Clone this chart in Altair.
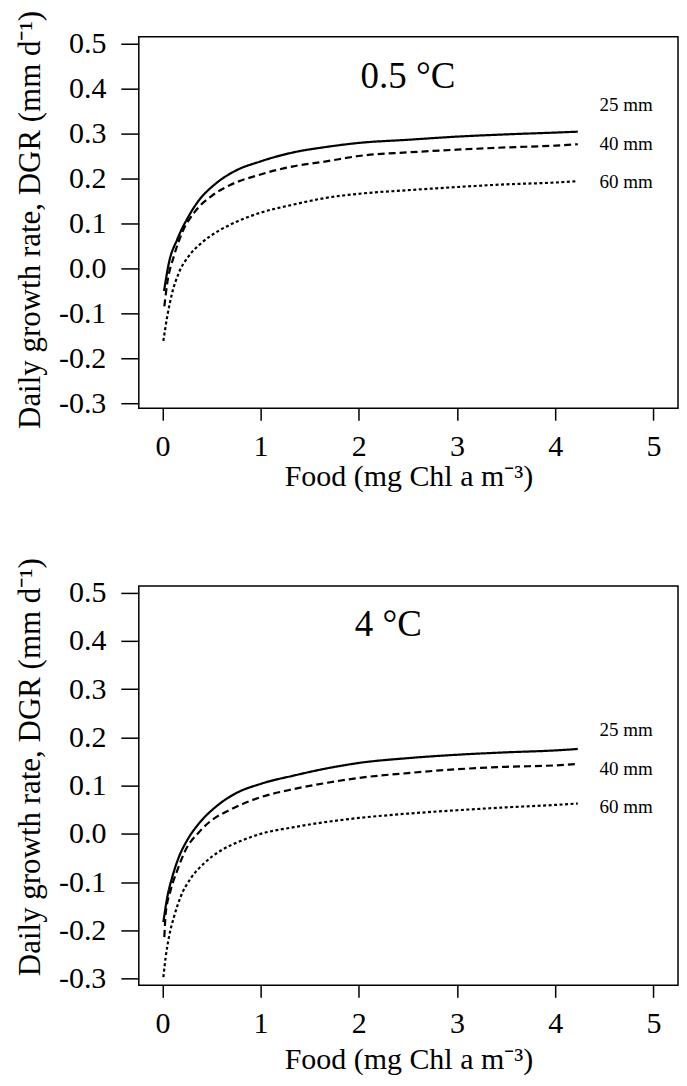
import altair as alt
import pandas as pd

# ---------------- data ----------------
sizes = ["25 mm", "40 mm", "60 mm"]

# Panel 1: 0.5 °C
t05_25_food = [0.017, 0.067, 0.15, 0.267, 0.367, 0.534, 0.734, 1.0, 1.334, 1.667, 2.0, 2.5, 3.0, 3.5, 4.0, 4.23]
t05_25_dgr = [-0.050, 0.013, 0.064, 0.116, 0.150, 0.187, 0.216, 0.238, 0.258, 0.270, 0.279, 0.286, 0.293, 0.298, 0.302, 0.304]
t05_40_food = [0.02, 0.05, 0.117, 0.2, 0.334, 0.5, 0.667, 1.0, 1.334, 1.667, 2.0, 2.5, 3.0, 3.5, 4.0, 4.23]
t05_40_dgr = [-0.084, -0.032, 0.027, 0.079, 0.127, 0.161, 0.183, 0.209, 0.227, 0.238, 0.250, 0.258, 0.264, 0.269, 0.273, 0.276]
t05_60_food = [0.01, 0.05, 0.1, 0.167, 0.267, 0.4, 0.567, 0.767, 1.0, 1.334, 1.667, 2.0, 2.5, 3.0, 3.5, 4.0, 4.23]
t05_60_dgr = [-0.161, -0.106, -0.054, -0.010, 0.027, 0.057, 0.083, 0.105, 0.124, 0.142, 0.157, 0.166, 0.174, 0.181, 0.187, 0.191, 0.194]

# Panel 2: 4 °C
t4_25_food = [0.01, 0.05, 0.10, 0.168, 0.25, 0.37, 0.537, 0.738, 1.006, 1.34, 1.68, 2.0, 2.5, 3.0, 3.5, 4.0, 4.23]
t4_25_dgr = [-0.183, -0.131, -0.090, -0.048, -0.014, 0.021, 0.055, 0.083, 0.104, 0.121, 0.136, 0.147, 0.157, 0.164, 0.169, 0.173, 0.176]
t4_40_food = [0.02, 0.034, 0.084, 0.151, 0.235, 0.37, 0.50, 0.67, 1.0, 1.34, 1.68, 2.0, 2.5, 3.0, 3.5, 4.0, 4.23]
t4_40_dgr = [-0.214, -0.165, -0.117, -0.076, -0.034, 0.003, 0.028, 0.048, 0.076, 0.093, 0.106, 0.116, 0.126, 0.134, 0.139, 0.142, 0.145]
t4_60_food = [0.01, 0.034, 0.067, 0.118, 0.185, 0.286, 0.42, 0.60, 0.805, 1.0, 1.34, 1.68, 2.0, 2.5, 3.0, 3.5, 4.0, 4.23]
t4_60_dgr = [-0.297, -0.255, -0.214, -0.172, -0.131, -0.093, -0.062, -0.034, -0.014, 0.000, 0.014, 0.025, 0.033, 0.042, 0.049, 0.055, 0.060, 0.063]

label_x = [4.45, 4.45, 4.45]
t05_label_y = [0.364, 0.277, 0.192]
t4_label_y = [0.216, 0.135, 0.055]

panel_titles = ["0.5 °C", "4 °C"]
panel_title_x = [2.50, 2.30]
panel_title_y = [0.402, 0.41]

x_ticks = [0, 1, 2, 3, 4, 5]
y_ticks = [-0.3, -0.2, -0.1, 0.0, 0.1, 0.2, 0.3, 0.4, 0.5]

FONT = "Liberation Serif"
PLOT_W = 540


def long_df(series):
    rows = []
    for size, xs, ys in series:
        for xv, yv in zip(xs, ys):
            rows.append({"size": size, "food": xv, "dgr": yv})
    return pd.DataFrame(rows)


def make_panel(series, label_y, title_text, tx, ty, ydom, height, xtitle_pad, ytitle_y):
    df = long_df(series)
    xscale = alt.Scale(domain=[-0.24, 5.25], nice=False, zero=False)
    yscale = alt.Scale(domain=ydom, nice=False, zero=False)
    common = dict(grid=False, domain=False, labelFont=FONT, titleFont=FONT,
                  titleFontWeight="normal", labelColor="black", titleColor="black",
                  tickColor="black", tickWidth=1.5, labelFontSize=30)
    xaxis = alt.Axis(values=x_ticks, title="Food (mg Chl a m⁻³)", format="d",
                     tickSize=12, labelPadding=11, titlePadding=xtitle_pad,
                     titleFontSize=30, **common)
    yaxis = alt.Axis(values=y_ticks, title="Daily growth rate, DGR (mm d⁻¹)",
                     labelExpr="datum.value < -0.0001 ? '-' + format(-datum.value, '.1f') : format(datum.value, '.1f')",
                     tickSize=18, labelPadding=15, titlePadding=11.5, titleY=ytitle_y,
                     titleFontSize=31, **common)
    lines = alt.Chart(df).mark_line(color="black", strokeWidth=2.2, interpolate="monotone").encode(
        x=alt.X("food:Q", scale=xscale, axis=xaxis),
        y=alt.Y("dgr:Q", scale=yscale, axis=yaxis),
        strokeDash=alt.StrokeDash("size:N",
                                  scale=alt.Scale(domain=sizes, range=[[1, 0], [7, 4], [3, 2.5]]),
                                  legend=None),
    )
    lab_df = pd.DataFrame({"x": label_x, "y": label_y, "t": sizes})
    labels = alt.Chart(lab_df).mark_text(align="left", baseline="middle", font=FONT,
                                         fontSize=19, color="black").encode(
        x=alt.X("x:Q", scale=xscale), y=alt.Y("y:Q", scale=yscale), text="t:N")
    t_df = pd.DataFrame({"x": [tx], "y": [ty], "t": [title_text]})
    title = alt.Chart(t_df).mark_text(align="center", baseline="alphabetic", font=FONT,
                                      fontSize=37, color="black").encode(
        x=alt.X("x:Q", scale=xscale), y=alt.Y("y:Q", scale=yscale), text="t:N")
    return alt.layer(lines, labels, title).properties(width=PLOT_W, height=height)


top = make_panel([("25 mm", t05_25_food, t05_25_dgr),
                  ("40 mm", t05_40_food, t05_40_dgr),
                  ("60 mm", t05_60_food, t05_60_dgr)],
                 t05_label_y, panel_titles[0], panel_title_x[0], panel_title_y[0],
                 [-0.3104, 0.5149], 372, 0, 183)
bottom = make_panel([("25 mm", t4_25_food, t4_25_dgr),
                     ("40 mm", t4_40_food, t4_40_dgr),
                     ("60 mm", t4_60_food, t4_60_dgr)],
                    t4_label_y, panel_titles[1], panel_title_x[1], panel_title_y[1],
                    [-0.3139, 0.5139], 400, 6, 181)

chart = alt.vconcat(top, bottom, spacing=64).properties(
    padding={"left": 6, "top": 0, "right": 0, "bottom": 0},
    background="white",
).configure_view(stroke="black", strokeWidth=1.5)

chart.save("out.html", embed_options={"renderer": "svg", "actions": False})
